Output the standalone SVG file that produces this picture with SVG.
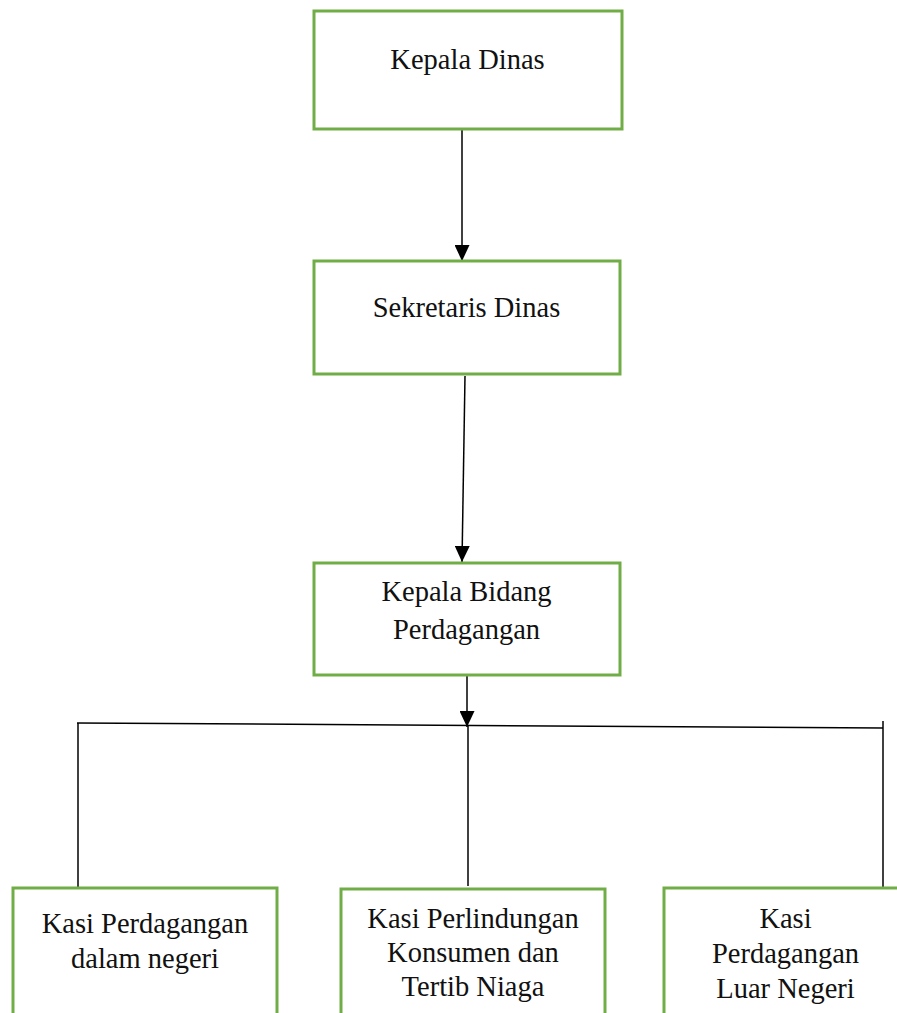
<svg xmlns="http://www.w3.org/2000/svg" width="897" height="1013" viewBox="0 0 897 1013">
<defs>
<style>
.box{fill:#fff;stroke:#70AD47;stroke-width:3}
.t{font-family:"Liberation Serif","Times New Roman",serif;font-size:28.5px;fill:#111;text-anchor:middle}
.c{stroke:#000;stroke-width:1.5;fill:none}
</style>
<marker id="arr" viewBox="0 0 16 15" refX="16" refY="7.5" markerWidth="16" markerHeight="15" markerUnits="userSpaceOnUse" orient="auto">
<path d="M0,0 L16,7.5 L0,15 Z" fill="#000"/>
</marker>
</defs>
<rect width="897" height="1013" fill="#fff"/>
<g id="connectors">
<line class="c" x1="462" y1="129" x2="462" y2="261" marker-end="url(#arr)"/>
<line class="c" x1="465" y1="376" x2="462" y2="562" marker-end="url(#arr)"/>
<line class="c" x1="467" y1="674" x2="467" y2="727" marker-end="url(#arr)"/>
<line class="c" x1="77" y1="723" x2="883" y2="728"/>
<line class="c" x1="78" y1="723" x2="78" y2="887"/>
<line class="c" x1="468" y1="726" x2="468" y2="886"/>
<line class="c" x1="883" y1="721" x2="883" y2="887"/>
</g>
<g id="kepala-dinas">
<rect class="box" x="314" y="11" width="308" height="118"/>
<text class="t" x="467.5" y="69">Kepala Dinas</text>
</g>
<g id="sekretaris-dinas">
<rect class="box" x="314" y="261" width="306" height="113"/>
<text class="t" x="466.5" y="317">Sekretaris Dinas</text>
</g>
<g id="kepala-bidang">
<rect class="box" x="314" y="563" width="306" height="112"/>
<text class="t" x="466.5" y="601">Kepala Bidang</text>
<text class="t" x="466.5" y="639">Perdagangan</text>
</g>
<g id="kasi-dalam-negeri">
<rect class="box" x="13" y="888" width="264" height="140"/>
<text class="t" x="145" y="933">Kasi Perdagangan</text>
<text class="t" x="145" y="968">dalam negeri</text>
</g>
<g id="kasi-perlindungan">
<rect class="box" x="341" y="889" width="264" height="140"/>
<text class="t" x="473" y="928">Kasi Perlindungan</text>
<text class="t" x="473" y="962">Konsumen dan</text>
<text class="t" x="473" y="996">Tertib Niaga</text>
</g>
<g id="kasi-luar-negeri">
<rect class="box" x="664" y="888" width="260" height="140"/>
<text class="t" x="785.5" y="928">Kasi</text>
<text class="t" x="785.5" y="963">Perdagangan</text>
<text class="t" x="785.5" y="998">Luar Negeri</text>
</g>
</svg>
